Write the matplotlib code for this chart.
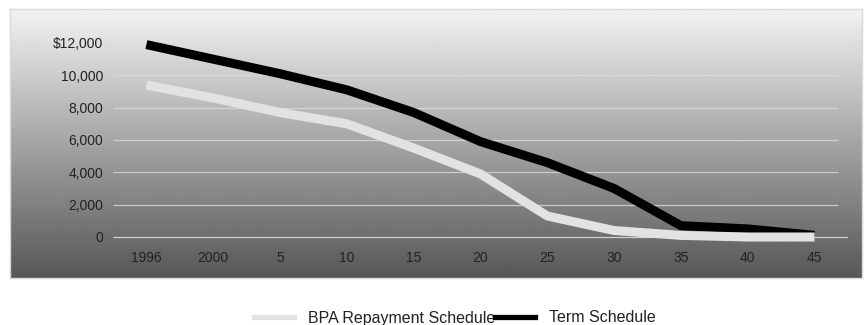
import numpy as np
import matplotlib.pyplot as plt
from matplotlib.lines import Line2D

plt.rcParams['font.family'] = ['Liberation Sans', 'DejaVu Sans']

# years along the schedule (tick labels as printed)
years = ['1996', '2000', '5', '10', '15', '20', '25', '30', '35', '40', '45']
# outstanding amounts, dollars
bpa_repayment = [9400, 8600, 7700, 7000, 5500, 3900, 1300, 400, 100, 0, 0]
term_schedule = [11900, 11000, 10100, 9100, 7700, 5900, 4600, 3000, 700, 500, 100]
y_ticks = [0, 2000, 4000, 6000, 8000, 10000, 12000]
y_labels = ['0', '2,000', '4,000', '6,000', '8,000', '10,000', '$12,000']

W, H = 865, 325
fig = plt.figure(figsize=(W / 100, H / 100), dpi=100)
fig.patch.set_facecolor('white')

# grey gradient panel behind the plot
bg = fig.add_axes([10 / W, 1 - 278 / H, 852 / W, 269 / H])
grad = np.linspace(0.95, 0.34, 256).reshape(-1, 1)
bg.imshow(grad, cmap='gray', vmin=0, vmax=1, aspect='auto', extent=[0, 1, 0, 1])
bg.set_xticks([])
bg.set_yticks([])
for s in bg.spines.values():
    s.set_color('#d8d8d8')
    s.set_linewidth(1)

ax = fig.add_axes([113 / W, 1 - 245 / H, 735 / W, 220 / H])
ax.patch.set_alpha(0)
x = np.arange(len(years))
ax.set_xlim(-0.5, 10.5)
ax.set_ylim(-495, 13113)

for yv in y_ticks[1:]:
    ax.hlines(yv, -0.5, 10.35, color='#dcdcdc', lw=0.9, alpha=0.8, zorder=1)
ax.hlines(0, -0.5, 10.5, color='#d0d0d0', lw=0.9, zorder=1)

ax.plot(x, term_schedule, color='black', lw=6.5, solid_capstyle='butt',
        solid_joinstyle='round', zorder=3)
ax.plot(x, bpa_repayment, color='#e2e2e2', lw=6.5, solid_capstyle='butt',
        solid_joinstyle='round', zorder=4)

ax.set_xticks(x)
ax.set_xticklabels(years)
ax.set_yticks(y_ticks)
ax.set_yticklabels(y_labels)
ax.tick_params(axis='both', length=0, labelsize=10, labelcolor='#222222')
ax.tick_params(axis='y', pad=7)
ax.tick_params(axis='x', pad=4)
for s in ax.spines.values():
    s.set_visible(False)

handles = [Line2D([], [], color='#e2e2e2', lw=3.8),
           Line2D([], [], color='black', lw=3.8)]
fig.legend(handles, ['BPA Repayment Schedule', 'Term Schedule'],
           loc='center', bbox_to_anchor=(455 / W, 1 - 318 / H), ncol=2,
           frameon=False, fontsize=11.5, handlelength=2.5, handletextpad=0.85,
           columnspacing=0.0, borderpad=0, labelcolor='#222222')

fig.savefig('out.png', dpi=100)
